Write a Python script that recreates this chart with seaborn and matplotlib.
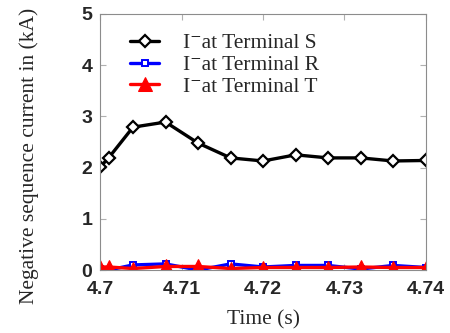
import matplotlib
matplotlib.use("Agg")
import matplotlib.pyplot as plt
import seaborn as sns
import pandas as pd

# Sample instants (s)
time_s = [4.700, 4.701, 4.704, 4.708, 4.712, 4.716, 4.720, 4.724, 4.728, 4.732, 4.736, 4.740]
# Negative sequence current magnitude (kA) at each terminal
i_neg_S = [2.02, 2.19, 2.79, 2.89, 2.48, 2.19, 2.13, 2.25, 2.19, 2.19, 2.13, 2.14]
i_neg_R = [0.03, 0.00, 0.10, 0.12, 0.00, 0.12, 0.06, 0.09, 0.09, 0.02, 0.09, 0.05]
i_neg_T = [0.06, 0.06, 0.03, 0.07, 0.07, 0.03, 0.05, 0.05, 0.05, 0.06, 0.05, 0.05]

labels = ["I\u207bat Terminal S", "I\u207bat Terminal R", "I\u207bat Terminal T"]
x_ticks = [4.70, 4.71, 4.72, 4.73, 4.74]
x_tick_labels = ["4.7", "4.71", "4.72", "4.73", "4.74"]
y_ticks = [0, 1, 2, 3, 4, 5]

sns.set_style("white")
plt.rcParams["font.family"] = ["Liberation Serif", "DejaVu Serif"]

fig = plt.figure(figsize=(4.5, 3.33), dpi=100)
ax = fig.add_axes([0.2233, 0.189, 0.7227, 0.769])

df = pd.DataFrame({"t": time_s, "S": i_neg_S, "R": i_neg_R, "T": i_neg_T})

sns.lineplot(data=df, x="t", y="S", ax=ax, color="black", lw=2.4,
             marker="D", markersize=6.5, markerfacecolor="white",
             markeredgecolor="black", markeredgewidth=1.6, label=labels[0])
sns.lineplot(data=df, x="t", y="R", ax=ax, color="blue", lw=2.4,
             marker="s", markersize=5, markerfacecolor="white",
             markeredgecolor="blue", markeredgewidth=1.4, label=labels[1])
sns.lineplot(data=df, x="t", y="T", ax=ax, color="red", lw=2.4,
             marker="^", markersize=10, markerfacecolor="red",
             markeredgecolor="red", label=labels[2])

ax.set_xlim(4.70, 4.74)
ax.set_ylim(0, 5)
ax.set_xticks(x_ticks)
ax.set_xticklabels(x_tick_labels)
ax.set_yticks(y_ticks)

for lab in ax.get_xticklabels() + ax.get_yticklabels():
    lab.set_fontfamily("Liberation Sans")
    lab.set_fontweight("bold")
    lab.set_fontsize(14)

ax.tick_params(direction="in", length=4, width=0.8, color="#b0b0b0",
               top=True, right=True, bottom=True, left=True)
ax.tick_params(axis="x", pad=8)
ax.tick_params(axis="y", pad=6)
for sp in ax.spines.values():
    sp.set_color("#8c8c8c")
    sp.set_linewidth(0.8)

ax.set_xlabel("Time (s)", fontsize=15.5, labelpad=9)
ax.set_ylabel("Negative sequence current in (kA)", fontsize=15.5)
ax.yaxis.set_label_coords(-0.19, 0.445)

leg = ax.legend(loc="upper left", bbox_to_anchor=(0.091, 0.925), frameon=False,
                fontsize=15.5, handlelength=1.35, handletextpad=1.1,
                labelspacing=0.08, borderaxespad=0.0, borderpad=0.0)

fig.savefig("out.png", dpi=100)
